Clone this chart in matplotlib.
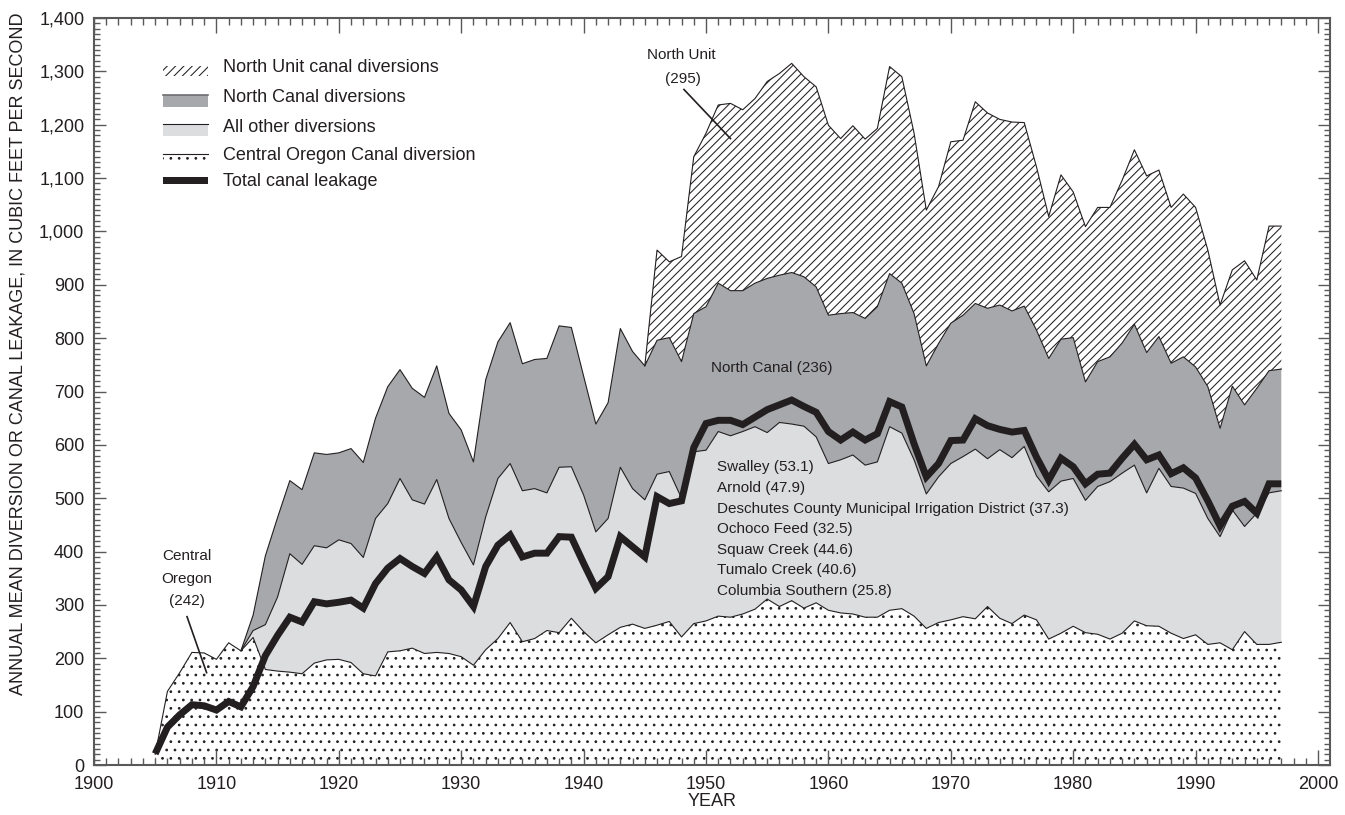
import numpy as np
import matplotlib
matplotlib.use("Agg")
import matplotlib.pyplot as plt
from matplotlib.ticker import MultipleLocator, FuncFormatter
from matplotlib.patches import Rectangle
from matplotlib.lines import Line2D

plt.rcParams['font.family'] = ['Liberation Sans', 'DejaVu Sans']
plt.rcParams['hatch.linewidth'] = 0.75

# ---------------- data (cubic feet per second) ----------------
years = list(range(1905, 1998))

central_oregon = [
    20, 138, 173, 211, 210, 198, 229, 214, 239, 179,          # 1905-1914
    176, 174, 171, 191, 197, 198, 192, 171, 167, 212,         # 1915-1924
    214, 219, 209, 211, 209, 203, 187, 216, 237, 267,         # 1925-1934
    231, 237, 252, 248, 275, 250, 229, 244, 258, 264,         # 1935-1944
    256, 262, 269, 240, 265, 270, 279, 277, 283, 292,         # 1945-1954
    311, 297, 308, 294, 304, 290, 285, 283, 277, 277,         # 1955-1964
    290, 293, 279, 256, 267, 272, 278, 274, 297, 275,         # 1965-1974
    265, 281, 272, 236, 247, 260, 248, 245, 236, 247,         # 1975-1984
    270, 261, 260, 247, 237, 244, 226, 229, 216, 250,         # 1985-1994
    226, 226, 230]                                            # 1995-1997

# cumulative top of "all other diversions" (stacked on Central Oregon), from 1912
other_start = 1912
all_other_top = [
    214, 252, 263, 315, 396, 376, 411, 407,                   # 1912-1919
    422, 415, 389, 462, 490, 537, 497, 489, 535, 462,         # 1920-1929
    417, 375, 465, 537, 565, 514, 518, 510, 558, 559,         # 1930-1939
    506, 437, 462, 558, 518, 497, 545, 550, 500, 587,         # 1940-1949
    590, 625, 617, 625, 634, 623, 642, 639, 635, 615,         # 1950-1959
    565, 572, 581, 562, 568, 634, 622, 572, 508, 540,         # 1960-1969
    565, 578, 592, 574, 591, 576, 597, 542, 512, 532,         # 1970-1979
    537, 496, 522, 531, 547, 562, 510, 556, 522, 519,         # 1980-1989
    509, 462, 428, 478, 447, 472, 510, 514]                   # 1990-1997

# cumulative top of "North Canal diversions", from 1912
north_canal_top = [
    214, 281, 392, 464, 533, 516, 585, 582,                   # 1912-1919
    585, 593, 567, 650, 709, 741, 706, 689, 748, 659,         # 1920-1929
    628, 568, 722, 793, 829, 752, 760, 762, 823, 820,         # 1930-1939
    729, 639, 679, 818, 775, 748, 796, 801, 756, 846,         # 1940-1949
    859, 903, 889, 889, 903, 912, 918, 923, 915, 896,         # 1950-1959
    843, 846, 848, 837, 859, 921, 903, 846, 748, 790,         # 1960-1969
    828, 843, 865, 856, 862, 851, 860, 815, 762, 798,         # 1970-1979
    801, 718, 756, 765, 791, 826, 773, 803, 753, 765,         # 1980-1989
    746, 709, 631, 710, 675, 706, 739, 742]                   # 1990-1997

# cumulative top of "North Unit canal diversions", from 1945
unit_start = 1945
north_unit_top = [
    748, 965, 943, 953, 1140,                                 # 1945-1949
    1184, 1237, 1240, 1228, 1249, 1281, 1296, 1315, 1290, 1271,   # 1950-1959
    1199, 1174, 1198, 1173, 1193, 1309, 1290, 1184, 1040, 1084,   # 1960-1969
    1168, 1171, 1243, 1222, 1210, 1205, 1204, 1121, 1028, 1106,   # 1970-1979
    1074, 1009, 1045, 1045, 1096, 1153, 1104, 1115, 1045, 1070,   # 1980-1989
    1045, 965, 862, 928, 945, 909, 1010, 1010]                    # 1990-1997

total_leakage = [
    21, 71, 94, 113, 111, 103, 119, 109, 147, 205,            # 1905-1914
    243, 277, 268, 306, 302, 305, 309, 294, 340, 369,         # 1915-1924
    387, 372, 359, 390, 347, 328, 297, 372, 412, 431,         # 1925-1934
    390, 397, 397, 428, 427, 378, 331, 353, 428, 409,         # 1935-1944
    390, 503, 490, 495, 595, 640, 646, 646, 638, 652,         # 1945-1954
    666, 675, 684, 672, 661, 625, 609, 624, 609, 621,         # 1955-1964
    681, 671, 602, 540, 565, 608, 609, 649, 636, 629,         # 1965-1974
    624, 627, 577, 534, 575, 559, 527, 545, 547, 575,         # 1975-1984
    601, 572, 581, 546, 557, 538, 495, 448, 485, 494,         # 1985-1994
    472, 527, 527]                                            # 1995-1997

legend_labels = ["North Unit canal diversions", "North Canal diversions",
                 "All other diversions", "Central Oregon Canal diversion",
                 "Total canal leakage"]

other_canals = ["Swalley (53.1)", "Arnold (47.9)",
                "Deschutes County Municipal Irrigation District (37.3)",
                "Ochoco Feed (32.5)", "Squaw Creek (44.6)",
                "Tumalo Creek (40.6)", "Columbia Southern (25.8)"]

# ---------------- styling ----------------
INK = '#231f20'
AXC = '#58595b'
DARK = '#a7a8ab'
LIGHT = '#dcdddf'

yr = np.array(years)
co = np.array(central_oregon, float)
i12 = other_start - years[0]
yr12 = yr[i12:]
ao = np.array(all_other_top, float)
nc = np.array(north_canal_top, float)
i45 = unit_start - other_start
yr45 = yr12[i45:]
nu = np.array(north_unit_top, float)
lk = np.array(total_leakage, float)

fig = plt.figure(figsize=(13.45, 8.15), dpi=100)
AX_L, AX_R, AX_T, AX_B = 94, 1330, 18, 765
ax = fig.add_axes([AX_L/1345, (815-AX_B)/815, (AX_R-AX_L)/1345, (AX_B-AX_T)/815])

# stacked areas
ax.fill_between(yr, 0, co, facecolor='white', edgecolor=INK, hatch='..', linewidth=0, zorder=1)
ax.fill_between(yr12, co[i12:], ao, facecolor=LIGHT, linewidth=0, zorder=1)
ax.fill_between(yr12, ao, nc, facecolor=DARK, linewidth=0, zorder=1)
ax.fill_between(yr45, nc[i45:], nu, facecolor='white', edgecolor=INK, hatch='////', linewidth=0, zorder=1)
for xs, ys in [(yr, co), (yr12, ao), (yr12, nc), (yr45, nu)]:
    ax.plot(xs, ys, color=INK, lw=0.8, zorder=2)
ax.plot(yr, lk, color=INK, lw=5, solid_joinstyle='miter', solid_capstyle='butt', zorder=3)

# axes: frame runs slightly past 2000, as in the original
ax.set_xlim(1900, 1900 + (AX_R - AX_L) / 12.24)
ax.set_ylim(0, 1400)
ax.xaxis.set_major_locator(MultipleLocator(10))
ax.xaxis.set_minor_locator(MultipleLocator(1))
ax.yaxis.set_major_locator(MultipleLocator(100))
ax.yaxis.set_minor_locator(MultipleLocator(10))
ax.yaxis.set_major_formatter(FuncFormatter(lambda v, p: f"{int(v):,}"))
ax.tick_params(axis='x', which='major', direction='in', length=11, width=1.0,
               color=AXC, top=True, labelsize=13, pad=8, labelcolor=INK)
ax.tick_params(axis='x', which='minor', direction='in', length=5, width=1.0,
               color=AXC, top=True)
ax.tick_params(axis='y', which='major', direction='in', length=8.5, width=1.0,
               color=AXC, right=True, labelsize=13, pad=7, labelcolor=INK)
ax.tick_params(axis='y', which='minor', direction='in', length=4, width=1.0,
               color=AXC, right=True)
for s in ax.spines.values():
    s.set_color(AXC)
    s.set_linewidth(1.5)
ax.set_xlabel("YEAR", fontsize=13, color=INK, labelpad=0)
fig.text(18/1345, 1 - 354/815,
         "ANNUAL MEAN DIVERSION OR CANAL LEAKAGE, IN CUBIC FEET PER SECOND",
         rotation=90, ha='center', va='center', fontsize=13, color=INK)

# legend (drawn in axes fraction)
def fx(px):
    return (px - AX_L) / (AX_R - AX_L)
def fy(py):
    return (AX_B - py) / (AX_B - AX_T)
H = AX_B - AX_T
hx0, hw = fx(163), 45 / (AX_R - AX_L)
T = ax.transAxes
ax.add_patch(Rectangle((hx0, fy(76)), hw, 10.5/H, transform=T, facecolor='white',
                       edgecolor=INK, hatch='////', linewidth=0, zorder=5))
ax.add_patch(Rectangle((hx0, fy(106.5)), hw, 12/H, transform=T, facecolor=DARK,
                       linewidth=0, zorder=5))
ax.add_line(Line2D([hx0, hx0 + hw], [fy(95), fy(95)], transform=T, color='#6d6e71', lw=1.2, zorder=6))
ax.add_patch(Rectangle((hx0, fy(135.5)), hw, 11.5/H, transform=T, facecolor=LIGHT,
                       linewidth=0, zorder=5))
ax.add_line(Line2D([hx0, hx0 + hw], [fy(124), fy(124)], transform=T, color=INK, lw=0.8, zorder=6))
ax.add_patch(Rectangle((hx0, fy(163.5)), hw, 9.5/H, transform=T, facecolor='white',
                       edgecolor=INK, hatch='..', linewidth=0, zorder=5))
ax.add_line(Line2D([hx0, hx0 + hw], [fy(154), fy(154)], transform=T, color=INK, lw=0.8, zorder=6))
ax.add_patch(Rectangle((hx0, fy(183.5)), hw, 7/H, transform=T, facecolor=INK,
                       linewidth=0, zorder=5))
for lab, py in zip(legend_labels, [68, 98, 127.5, 156, 181.5]):
    ax.text(fx(223), fy(py), lab, transform=T, ha='left', va='center',
            fontsize=13, color=INK, zorder=6)

# annotations
ann = dict(fontsize=11, color=INK, zorder=6)
for s, v in zip(["Central", "Oregon", "(242)"], [392, 349, 307]):
    ax.text(1907.6, v, s, ha='center', va='center', **ann)
ax.plot([1907.6, 1909.2], [278, 173], color=INK, lw=1.2, zorder=6)

ax.text(1947.95, 1330, "North Unit", ha='center', va='center', **ann)
ax.text(1948.1, 1286, "(295)", ha='center', va='center', **ann)
ax.plot([1948.2, 1952.0], [1266, 1174], color=INK, lw=1.2, zorder=6)

ax.text(1955.4, 744, "North Canal (236)", ha='center', va='center', **ann)
for s, v in zip(other_canals, [558, 519, 480, 442, 403, 365, 327]):
    ax.text(1950.9, v, s, ha='left', va='center', **ann)

fig.savefig("out.png", dpi=100)
